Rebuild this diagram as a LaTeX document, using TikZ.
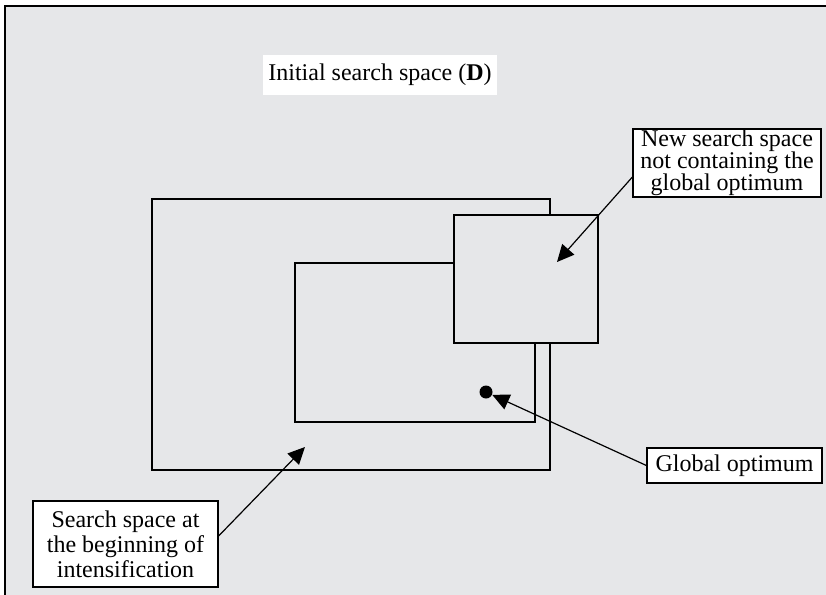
\documentclass[tikz,border=0pt]{standalone}
\usepackage{fontspec}
\setmainfont{Liberation Serif}
\usetikzlibrary{arrows.meta}
\definecolor{bggray}{RGB}{230,231,233}
\begin{document}
\begin{tikzpicture}[
    x=0.5pt, y=-0.5pt,
    space/.style={
        rectangle,
        draw=black,
        line width=0.9pt,
        fill=bggray,
        anchor=north west,
        inner sep=0pt
    },
    labelbox/.style={
        rectangle,
        draw=black,
        line width=0.6pt,
        fill=white,
        align=center,
        inner sep=0pt,
        font=\fontsize{12}{12.5}\selectfont
    },
    pointer/.style={
        -{Triangle[length=8.5pt,width=8pt]},
        line width=0.6pt
    }
]
\useasboundingbox (0,0) rectangle (826,595);

% Frame of the initial search space
\fill[bggray] (5,6) rectangle (826,595);
\draw[line width=1pt] (5,595) |- (826,6);

% Title
\node[fill=white, inner sep=0pt, minimum width=117pt, minimum height=20pt,
      font=\fontsize{12}{12.5}\selectfont] (title) at (380,75) {Initial search space (\textbf{D})};

% Search spaces
\node[space, minimum width=199pt, minimum height=135.5pt] (begin) at (151,198) {};
\node[space, minimum width=120pt, minimum height=79.5pt] (inner) at (294,262) {};
\node[space, minimum width=72pt, minimum height=64pt] (newspace) at (453,214) {};

% Global optimum
\node[circle, fill=black, inner sep=0pt, minimum size=6.5pt] (opt) at (486,392) {};

% Labels
\node[labelbox, minimum width=94pt, minimum height=34pt,
      font=\fontsize{12}{11}\selectfont] (newbox) at (727,163)
    {New search space\\not containing the\\global optimum};
\node[labelbox, minimum width=87.5pt, minimum height=17.5pt] (globbox) at (734.5,465.5) {Global optimum};
\node[labelbox, minimum width=92.5pt, minimum height=43pt] (srchbox) at (125.5,544)
    {Search space at\\the beginning of\\intensification};

% Pointers
\coordinate (newtip) at (557,262);
\coordinate (srchtip) at (305,447);
\draw[pointer] ([yshift=-7pt]newbox.west) -- (newtip);
\draw[pointer] (globbox.west) -- (opt);
\draw[pointer] ([yshift=4pt]srchbox.east) -- (srchtip);

\end{tikzpicture}
\end{document}
